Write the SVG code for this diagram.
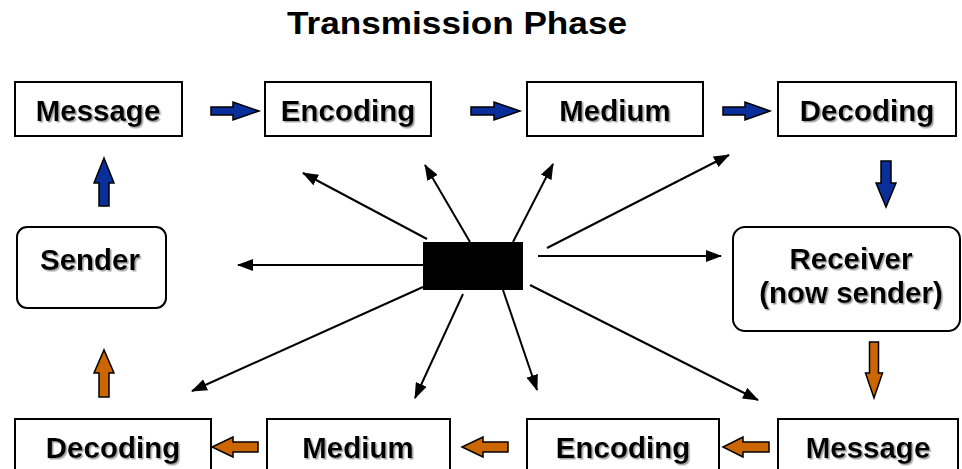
<svg xmlns="http://www.w3.org/2000/svg" width="962" height="469" viewBox="0 0 962 469">
<style>
.box{fill:#fff;stroke:#000;stroke-width:2}
.lbl{font-family:"Liberation Sans",Arial,sans-serif;font-weight:bold;font-size:29.5px;text-anchor:middle;fill:#000;filter:url(#sh)}
.title{font-family:"Liberation Sans",Arial,sans-serif;font-weight:bold;font-size:32px;text-anchor:middle;fill:#000}
.ln{stroke:#000;stroke-width:2;fill:none;marker-end:url(#ah)}
.blue{fill:#0A2E9A;stroke:#000;stroke-width:1.5}
.orange{fill:#CC6600;stroke:#000;stroke-width:1.5}
</style>
<defs>
<filter id="sh" x="-10%" y="-20%" width="130%" height="150%">
<feDropShadow dx="1.5" dy="1.5" stdDeviation="0.6" flood-color="#999" flood-opacity="0.9"/>
</filter>
<marker id="ah" viewBox="0 0 16 12" markerWidth="16" markerHeight="12" refX="15" refY="6" orient="auto" markerUnits="userSpaceOnUse">
<path d="M0,0 L16,6 L0,12 z" fill="#000"/>
</marker>
</defs>
<rect width="962" height="469" fill="#fff"/>
<text class="title" x="457" y="34" textLength="340" lengthAdjust="spacingAndGlyphs">Transmission Phase</text>

<g id="top-message"><rect class="box" x="15" y="82" width="167" height="54"/><text class="lbl" x="98" y="121">Message</text></g>
<g id="top-encoding"><rect class="box" x="265" y="82" width="166" height="54"/><text class="lbl" x="348" y="121">Encoding</text></g>
<g id="top-medium"><rect class="box" x="527" y="82" width="176" height="54"/><text class="lbl" x="615" y="121">Medium</text></g>
<g id="top-decoding"><rect class="box" x="778" y="82" width="178" height="54"/><text class="lbl" x="867" y="121">Decoding</text></g>

<g id="sender"><rect class="box" x="17" y="227" width="149" height="81" rx="10"/><text class="lbl" x="90" y="270">Sender</text></g>
<g id="receiver"><rect class="box" x="733" y="227" width="227" height="104" rx="12"/><text class="lbl" x="851" y="269">Receiver</text><text class="lbl" x="851" y="303">(now sender)</text></g>
<g id="noise"><rect x="423" y="242" width="100" height="48" fill="#000"/></g>

<g id="bot-decoding"><rect class="box" x="15" y="419" width="196" height="60"/><text class="lbl" x="113" y="458">Decoding</text></g>
<g id="bot-medium"><rect class="box" x="267" y="419" width="183" height="60"/><text class="lbl" x="358" y="458">Medium</text></g>
<g id="bot-encoding"><rect class="box" x="527" y="419" width="192" height="60"/><text class="lbl" x="623" y="458">Encoding</text></g>
<g id="bot-message"><rect class="box" x="778" y="419" width="180" height="60"/><text class="lbl" x="868" y="458">Message</text></g>

<g id="connectors">
<line class="ln" x1="423" y1="265" x2="238" y2="265"/>
<line class="ln" x1="427" y1="239" x2="303" y2="173"/>
<line class="ln" x1="470" y1="242" x2="425" y2="165"/>
<line class="ln" x1="513" y1="242" x2="553" y2="164"/>
<line class="ln" x1="547" y1="248" x2="729" y2="155"/>
<line class="ln" x1="538" y1="256" x2="721" y2="256"/>
<line class="ln" x1="530" y1="285" x2="758" y2="400"/>
<line class="ln" x1="503" y1="290" x2="537" y2="390"/>
<line class="ln" x1="463" y1="294" x2="415" y2="398"/>
<line class="ln" x1="423" y1="287" x2="192" y2="391"/>

<path class="blue" d="M211,107 H233 V102 L259,111 L233,120 V115 H211 Z"/>
<path class="blue" d="M471,107 H494 V102 L520,111 L494,120 V115 H471 Z"/>
<path class="blue" d="M723,107 H745 V102 L770,111 L745,120 V115 H723 Z"/>
<path class="blue" d="M881,161 V183 H876 L886,207 L896,183 H891 V161 Z"/>
<path class="blue" d="M99,206 V183 H94 L104,158 L114,183 H109 V206 Z"/>

<path class="orange" d="M869.5,342 V373 H865.5 L874,398 L882.5,373 H878.5 V342 Z"/>
<path class="orange" d="M99,397 V373 H94 L104,350 L114,373 H109 V397 Z"/>
<path class="orange" d="M258,442 H233 V437 L212,447 L233,457 V452 H258 Z"/>
<path class="orange" d="M508,442 H483 V437 L462,447 L483,457 V452 H508 Z"/>
<path class="orange" d="M769,442 H743 V437 L723,447 L743,457 V452 H769 Z"/>
</g>
</svg>
